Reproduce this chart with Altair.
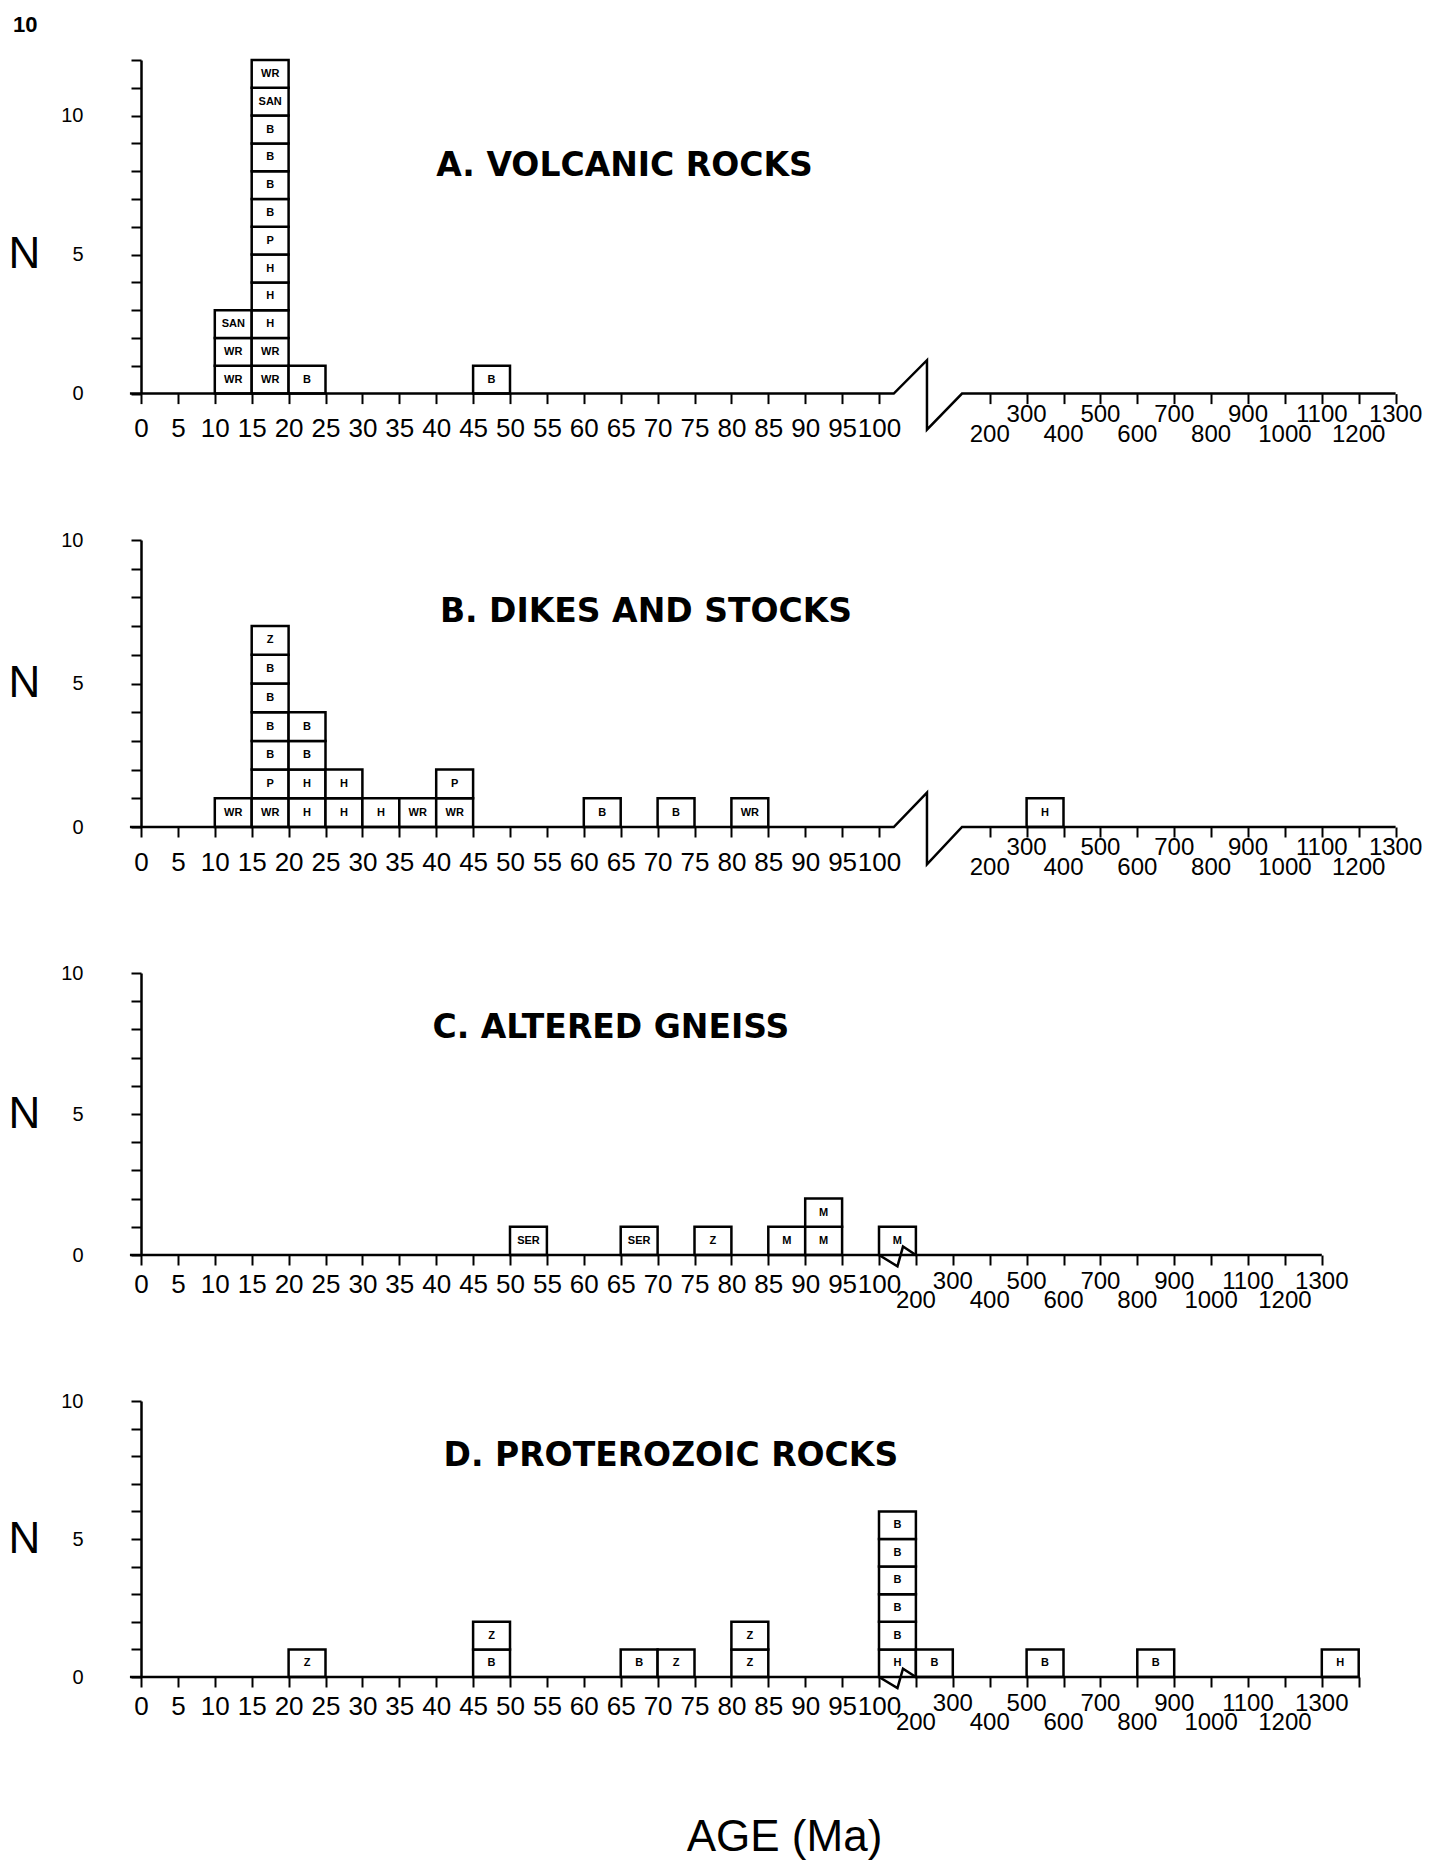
import json
import altair as alt
import pandas as pd

# ---------------- text ----------------
PAGE_NO = "10"
X_TITLE = "AGE (Ma)"
Y_TITLE = "N"
FONT = "Liberation Sans"
TITLE_FONT = "DejaVu Sans"

# ---------------- tick labels ----------------
YOUNG_AGES = list(range(0, 101, 5))        # 0 ... 100 Ma, one tick per 5 Ma
OLD_AGES = list(range(200, 1301, 100))     # 200 ... 1300 Ma, one tick per 100 Ma
D_EXTRA_AGES = [1400]                      # unlabeled last tick of panel D

# ---------------- panel A : volcanic rocks ----------------
A_TITLE = "A. VOLCANIC ROCKS"
A_START = [10, 15, 20, 45]
A_END = [15, 20, 25, 50]
A_STACK = [
    ["WR", "WR", "SAN"],
    ["WR", "WR", "H", "H", "H", "P", "B", "B", "B", "B", "SAN", "WR"],
    ["B"],
    ["B"],
]

# ---------------- panel B : dikes and stocks ----------------
B_TITLE = "B. DIKES AND STOCKS"
B_START = [10, 15, 20, 25, 30, 35, 40, 60, 70, 80, 300]
B_END = [15, 20, 25, 30, 35, 40, 45, 65, 75, 85, 400]
B_STACK = [
    ["WR"],
    ["WR", "P", "B", "B", "B", "B", "Z"],
    ["H", "H", "B", "B"],
    ["H", "H"],
    ["H"],
    ["WR"],
    ["WR", "P"],
    ["B"],
    ["B"],
    ["WR"],
    ["H"],
]

# ---------------- panel C : altered gneiss ----------------
C_TITLE = "C. ALTERED GNEISS"
C_START = [50, 65, 75, 85, 90, 100]
C_END = [55, 70, 80, 90, 95, 200]
C_STACK = [["SER"], ["SER"], ["Z"], ["M"], ["M", "M"], ["M"]]

# ---------------- panel D : proterozoic rocks ----------------
D_TITLE = "D. PROTEROZOIC ROCKS"
D_START = [20, 45, 65, 70, 80, 100, 200, 500, 800, 1300]
D_END = [25, 50, 70, 75, 85, 200, 300, 600, 900, 1400]
D_STACK = [
    ["Z"], ["B", "Z"], ["B"], ["Z"], ["Z", "Z"],
    ["H", "B", "B", "B", "B", "B"], ["B"], ["B"], ["B"], ["H"],
]

# ---------------- layout ----------------
SLOT_PX = 36.9


def slot(age, old0):
    """Broken age axis: 5 Ma per slot up to 100 Ma, then 100 Ma per slot from 200 Ma."""
    if age <= 100:
        return age / 5.0
    if age < 200:
        return 20.0 + (age - 100) / 100.0 * (old0 - 20.0)
    return old0 + (age - 200) / 100.0


def boxes(starts, ends, stacks, old0):
    rows = []
    for s, e, st in zip(starts, ends, stacks):
        for i, lab in enumerate(st):
            x0, x1 = slot(s, old0), slot(e, old0)
            rows.append(dict(x=x0, x2=x1, y=i, y2=i + 1,
                             xm=(x0 + x1) / 2, ym=i + 0.5, lab=lab))
    return pd.DataFrame(rows)


def panel(df, line_x, line_y, title, tx, ty, xmax, ymax, unit, old0,
          ages, broken, show_xtitle=False):
    W = xmax * SLOT_PX
    H = ymax * unit
    slots = [slot(a, old0) for a in ages]
    texts = [str(a) if a <= 100 else "" for a in ages]
    label_expr = (json.dumps(texts) + "[indexof(" + json.dumps(slots)
                  + ", datum.value)]")
    xscale = alt.Scale(domain=[0, xmax], nice=False, zero=False)
    yscale = alt.Scale(domain=[0, ymax], nice=False, zero=False)

    xaxis_kw = dict(
        values=slots, labelExpr=label_expr, domain=False, grid=False,
        ticks=True, tickSize=10, tickWidth=2, tickColor="black",
        labelFont=FONT, labelFontSize=26, labelColor="black",
        labelPadding=12 if broken else 6,
        labelFlush=False, labelOverlap=False, labelAngle=0,
        title=X_TITLE if show_xtitle else None,
    )
    if show_xtitle:
        xaxis_kw.update(titleFont=FONT, titleFontSize=44, titleFontWeight="normal",
                        titleColor="black", titleX=643, titleY=160,
                        titleAlign="center", titleBaseline="middle")
    xaxis = alt.Axis(**xaxis_kw)
    yaxis = alt.Axis(
        values=list(range(ymax + 1)),
        labelExpr="datum.value % 5 == 0 ? datum.label : ''",
        grid=False, tickSize=10, tickWidth=2, tickColor="black",
        domainColor="black", domainWidth=2.5,
        labelFont=FONT, labelFontSize=20, labelColor="black", labelPadding=48,
        labelFlush=False,
        title=Y_TITLE, titleAngle=0, titleFont=FONT, titleFontSize=44,
        titleFontWeight="normal", titleColor="black",
        titleX=-117, titleY=H - 5 * unit, titleAlign="center",
        titleBaseline="middle",
    )

    def X(f):
        return alt.X(f, scale=xscale, axis=xaxis)

    def Y(f):
        return alt.Y(f, scale=yscale, axis=yaxis)

    rects = alt.Chart(df).mark_rect(fill="white", stroke="black",
                                    strokeWidth=2.5).encode(
        x=X("x:Q"), x2="x2:Q", y=Y("y:Q"), y2="y2:Q",
    )
    labels = alt.Chart(df).mark_text(font=FONT, fontSize=11, fontWeight="bold",
                                     color="black", baseline="middle").encode(
        x=X("xm:Q"), y=Y("ym:Q"), text="lab:N",
    )
    ldf = pd.DataFrame({"x": line_x, "y": line_y, "o": list(range(len(line_x)))})
    base = alt.Chart(ldf).mark_line(color="black", strokeWidth=2.5,
                                    clip=False).encode(
        x=X("x:Q"), y=Y("y:Q"), order="o:Q",
    )
    tdf = pd.DataFrame({"x": [tx], "y": [ty], "t": [title]})
    ttl = alt.Chart(tdf).mark_text(font=TITLE_FONT, fontSize=33, fontWeight="bold",
                                   color="black", align="left",
                                   baseline="middle").encode(
        x=X("x:Q"), y=Y("y:Q"), text="t:N",
    )
    # staggered labels of the 200-1300 Ma part of the axis (pixels below baseline)
    up_px, low_px = (21, 41) if broken else (27, 46)
    odf = pd.DataFrame({
        "x": [slot(a, old0) for a in OLD_AGES],
        "y": [-(up_px if (a // 100) % 2 == 1 else low_px) / unit for a in OLD_AGES],
        "t": [str(a) for a in OLD_AGES],
    })
    old_lab = alt.Chart(odf).mark_text(font=FONT, fontSize=24, color="black",
                                       baseline="middle").encode(
        x=X("x:Q"), y=Y("y:Q"), text="t:N",
    )
    return alt.layer(rects, base, labels, ttl, old_lab).properties(width=W, height=H)


# axis-break geometry (slot / count units)
BREAK_X = [-0.3, 20.4, 21.3, 21.3, 22.25, 34]
BREAK_Y = [0, 0, 1.2, -1.3, 0, 0]
NOTCH_X_C = [-0.3, 20, 20.5, 20.65, 21, 32]
NOTCH_X_D = [-0.3, 20, 20.5, 20.65, 21, 33]
NOTCH_Y = [0, 0, -0.4, 0.3, 0, 0]

pA = panel(boxes(A_START, A_END, A_STACK, 23), BREAK_X, BREAK_Y, A_TITLE, 8.0, 8.2,
           34, 12, 27.8, 23, YOUNG_AGES + OLD_AGES, True)
pB = panel(boxes(B_START, B_END, B_STACK, 23), BREAK_X, BREAK_Y, B_TITLE, 8.1, 7.5,
           34, 10, 28.7, 23, YOUNG_AGES + OLD_AGES, True)
pC = panel(boxes(C_START, C_END, C_STACK, 21), NOTCH_X_C, NOTCH_Y, C_TITLE, 7.9, 8.05,
           32, 10, 28.2, 21, YOUNG_AGES + OLD_AGES, False)
pD = panel(boxes(D_START, D_END, D_STACK, 21), NOTCH_X_D, NOTCH_Y, D_TITLE, 8.2, 8.0,
           33, 10, 27.6, 21, YOUNG_AGES + OLD_AGES + D_EXTRA_AGES, False,
           show_xtitle=True)

chart = alt.vconcat(pA, pB, pC, pD, spacing=146, bounds="flush").properties(
    title=alt.TitleParams(PAGE_NO, anchor="start", font=FONT, fontSize=22,
                          fontWeight="bold", color="black", offset=22, dx=5),
    padding={"left": 0, "top": 5, "right": 5, "bottom": 5},
).configure_view(strokeWidth=0)

chart.save("out.html", embed_options={"renderer": "svg", "actions": False})
